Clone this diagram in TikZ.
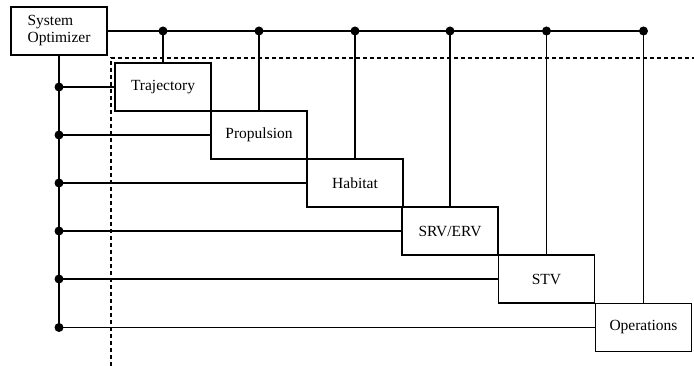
\documentclass[tikz,border=0pt]{standalone}
\usepackage{fontspec}
\setmainfont{Liberation Serif}
\usepackage{tikz}
\usepackage{xcolor}

\begin{document}
\begin{tikzpicture}[x=1pt,y=-1pt,line width=1.2pt,
  blk/.style={draw,fill=white,minimum width=96pt,minimum height=48pt,inner sep=0pt,font=\fontsize{15.5}{17}\selectfont},
  dot/.style={circle,fill,inner sep=0pt,minimum size=9pt},
  bus/.style={line width=1.8pt}]
\useasboundingbox (0,0) rectangle (694,366);

% dashed boundary
\draw[line width=1.3pt,dash pattern=on 4pt off 3pt] (111,366) -- (111,58) -- (694,58);

\node[blk,align=left] (sys) at (59,31) {System\\Optimizer};
\node[blk] (traj) at (163,87) {Trajectory};
\node[blk] (prop) at (259,135) {Propulsion};
\node[blk] (hab) at (355,183) {Habitat};
\node[blk] (srv) at (450,231) {SRV/ERV};
\node[blk] (stv) at (546.5,279) {STV};
\node[blk] (ops) at (643.5,327.5) {Operations};

% top bus
\draw (sys.east) -- (sys -| ops);
\draw (sys -| traj) node[dot] {} -- (traj.north);
\draw (sys -| prop) node[dot] {} -- (prop.north);
\draw (sys -| hab) node[dot] {} -- (hab.north);
\draw (sys -| srv) node[dot] {} -- (srv.north);
\draw (sys -| stv) node[dot] {} -- (stv.north);
\draw (sys -| ops) node[dot] {} -- (ops.north);

% left bus
\draw[bus] (sys.south) -- (stv -| sys);
\draw (stv -| sys) -- (ops -| sys);
\draw (traj -| sys) node[dot] {} -- (traj.west);
\draw (prop -| sys) node[dot] {} -- (prop.west);
\draw (hab -| sys) node[dot] {} -- (hab.west);
\draw (srv -| sys) node[dot] {} -- (srv.west);
\draw (stv -| sys) node[dot] {} -- (stv.west);
\draw (ops -| sys) node[dot] {} -- (ops.west);
\end{tikzpicture}
\end{document}
